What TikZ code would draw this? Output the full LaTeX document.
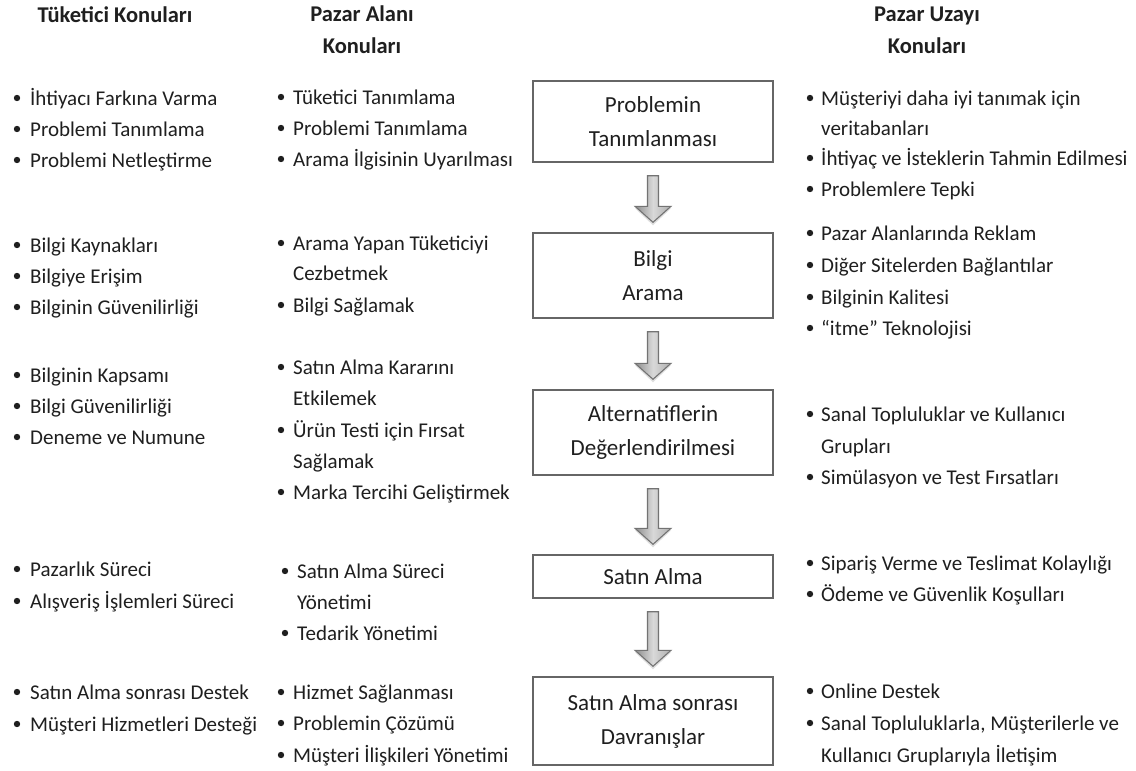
\documentclass[tikz,border=0pt]{standalone}
\usepackage{fontspec}
\setmainfont{Carlito}
\usetikzlibrary{calc}
\definecolor{ink}{gray}{0.12}
\definecolor{boxline}{gray}{0.40}
\definecolor{arrdark}{gray}{0.55}
\definecolor{arrlight}{gray}{0.85}
\definecolor{arrmid}{gray}{0.68}
\definecolor{arredge}{gray}{0.45}
\tikzset{
  txt/.style={anchor=mid west,inner sep=0pt,yshift=-5pt,text=ink,font=\fontsize{21}{31}\selectfont},
  head/.style={anchor=mid,inner sep=0pt,yshift=-3pt,text=ink,font=\fontsize{22.5}{31}\selectfont\bfseries},
  stage/.style={draw=boxline,line width=1.4pt,fill=white,minimum width=240pt,
    align=center,inner sep=0pt,text=ink,font=\fontsize{23}{34}\selectfont},
  arr/.style={draw=arredge,line width=1.1pt,left color=arrdark,right color=arrmid,middle color=arrlight},
  arrshadow/.style={fill=gray!25},
}
% bullet item: name, bullet x, text x, y, text
\newcommand\bitem[5]{%
  \fill[ink] (#2,#4) circle (3.2);
  \node[txt] (#1) at (#3,#4) {#5};}
% continuation line of an item
\newcommand\citem[4]{\node[txt] (#1) at (#2,#3) {#4};}
% block arrow from one stage down to the next, with a soft shadow under its tip
\newcommand\flowarrow[2]{%
  \path[arrshadow] let \p1=($(#1.south)+(0,13)$), \p2=($(#2.north)+(0,-10)$) in
    (\x1-18pt,\y2+14pt) -- (\x1,\y2-3pt) -- (\x1+18pt,\y2+14pt) -- cycle;
  \path[arr] let \p1=($(#1.south)+(0,13)$), \p2=($(#2.north)+(0,-10)$) in
    (\x1-5.5pt,\y1) -- (\x1+5.5pt,\y1) -- (\x1+5.5pt,\y2+16pt) -- (\x1+18pt,\y2+16pt)
    -- (\x1,\y2) -- (\x1-18pt,\y2+16pt) -- (\x1-5.5pt,\y2+16pt) -- cycle;}
\begin{document}
\begin{tikzpicture}[x=1pt,y=-1pt]
\useasboundingbox[fill=white] (0,0) rectangle (1136,771);

% column headings
\node[head] (h1) at (115,17) {Tüketici Konuları};
\node[head] (h2a) at (362,16) {Pazar Alanı};
\node[head] (h2b) at (362,48) {Konuları};
\node[head] (h3a) at (927,16) {Pazar Uzayı};
\node[head] (h3b) at (927,48) {Konuları};

% stages of the process
\node[stage,minimum height=81pt] (s1) at (653,121.5) {Problemin\\Tanımlanması};
\node[stage,minimum height=85pt] (s2) at (653,275.5) {Bilgi\\Arama};
\node[stage,minimum height=85pt] (s3) at (653,432.5) {Alternatiflerin\\Değerlendirilmesi};
\node[stage,minimum height=43pt] (s4) at (653,576.5) {Satın Alma};
\node[stage,minimum height=88pt] (s5) at (653,721) {Satın Alma sonrası\\Davranışlar};

\flowarrow{s1}{s2}
\flowarrow{s2}{s3}
\flowarrow{s3}{s4}
\flowarrow{s4}{s5}

% consumer issues
\bitem{a1}{17}{30}{98}{İhtiyacı Farkına Varma}
\bitem{a2}{17}{30}{129}{Problemi Tanımlama}
\bitem{a3}{17}{30}{160}{Problemi Netleştirme}
\bitem{a4}{17}{30}{245}{Bilgi Kaynakları}
\bitem{a5}{17}{30}{276}{Bilgiye Erişim}
\bitem{a6}{17}{30}{307}{Bilginin Güvenilirliği}
\bitem{a7}{17}{30}{375}{Bilginin Kapsamı}
\bitem{a8}{17}{30}{406}{Bilgi Güvenilirliği}
\bitem{a9}{17}{30}{437}{Deneme ve Numune}
\bitem{a10}{17}{30}{569}{Pazarlık Süreci}
\bitem{a11}{17}{30}{601}{Alışveriş İşlemleri Süreci}
\bitem{a12}{17}{30}{692}{Satın Alma sonrası Destek}
\bitem{a13}{17}{30}{724}{Müşteri Hizmetleri Desteği}

% marketplace issues
\bitem{b1}{281}{293}{97}{Tüketici Tanımlama}
\bitem{b2}{281}{293}{128}{Problemi Tanımlama}
\bitem{b3}{281}{293}{159}{Arama İlgisinin Uyarılması}
\bitem{b4}{281}{293}{243}{Arama Yapan Tüketiciyi}
\citem{b4c}{293}{273}{Cezbetmek}
\bitem{b5}{281}{293}{305}{Bilgi Sağlamak}
\bitem{b6}{281}{293}{367}{Satın Alma Kararını}
\citem{b6c}{293}{398}{Etkilemek}
\bitem{b7}{281}{293}{430}{Ürün Testi için Fırsat}
\citem{b7c}{293}{461}{Sağlamak}
\bitem{b8}{281}{293}{492}{Marka Tercihi Geliştirmek}
\bitem{b9}{285}{297}{571}{Satın Alma Süreci}
\citem{b9c}{297}{602}{Yönetimi}
\bitem{b10}{285}{297}{633}{Tedarik Yönetimi}
\bitem{b11}{281}{293}{692}{Hizmet Sağlanması}
\bitem{b12}{281}{293}{723}{Problemin Çözümü}
\bitem{b13}{281}{293}{755}{Müşteri İlişkileri Yönetimi}

% marketspace issues
\bitem{c1}{810}{821}{98}{Müşteriyi daha iyi tanımak için}
\citem{c1c}{821}{128}{veritabanları}
\bitem{c2}{810}{821}{158}{İhtiyaç ve İsteklerin Tahmin Edilmesi}
\bitem{c3}{810}{821}{189}{Problemlere Tepki}
\bitem{c4}{810}{821}{233}{Pazar Alanlarında Reklam}
\bitem{c5}{810}{821}{265}{Diğer Sitelerden Bağlantılar}
\bitem{c6}{810}{821}{297}{Bilginin Kalitesi}
\bitem{c7}{810}{821}{328}{“itme” Teknolojisi}
\bitem{c8}{810}{821}{414}{Sanal Topluluklar ve Kullanıcı}
\citem{c8c}{821}{446}{Grupları}
\bitem{c9}{810}{821}{477}{Simülasyon ve Test Fırsatları}
\bitem{c10}{810}{821}{563}{Sipariş Verme ve Teslimat Kolaylığı}
\bitem{c11}{810}{821}{594}{Ödeme ve Güvenlik Koşulları}
\bitem{c12}{810}{821}{691}{Online Destek}
\bitem{c13}{810}{821}{723}{Sanal Topluluklarla, Müşterilerle ve}
\citem{c13c}{821}{755}{Kullanıcı Gruplarıyla İletişim}
\end{tikzpicture}
\end{document}
